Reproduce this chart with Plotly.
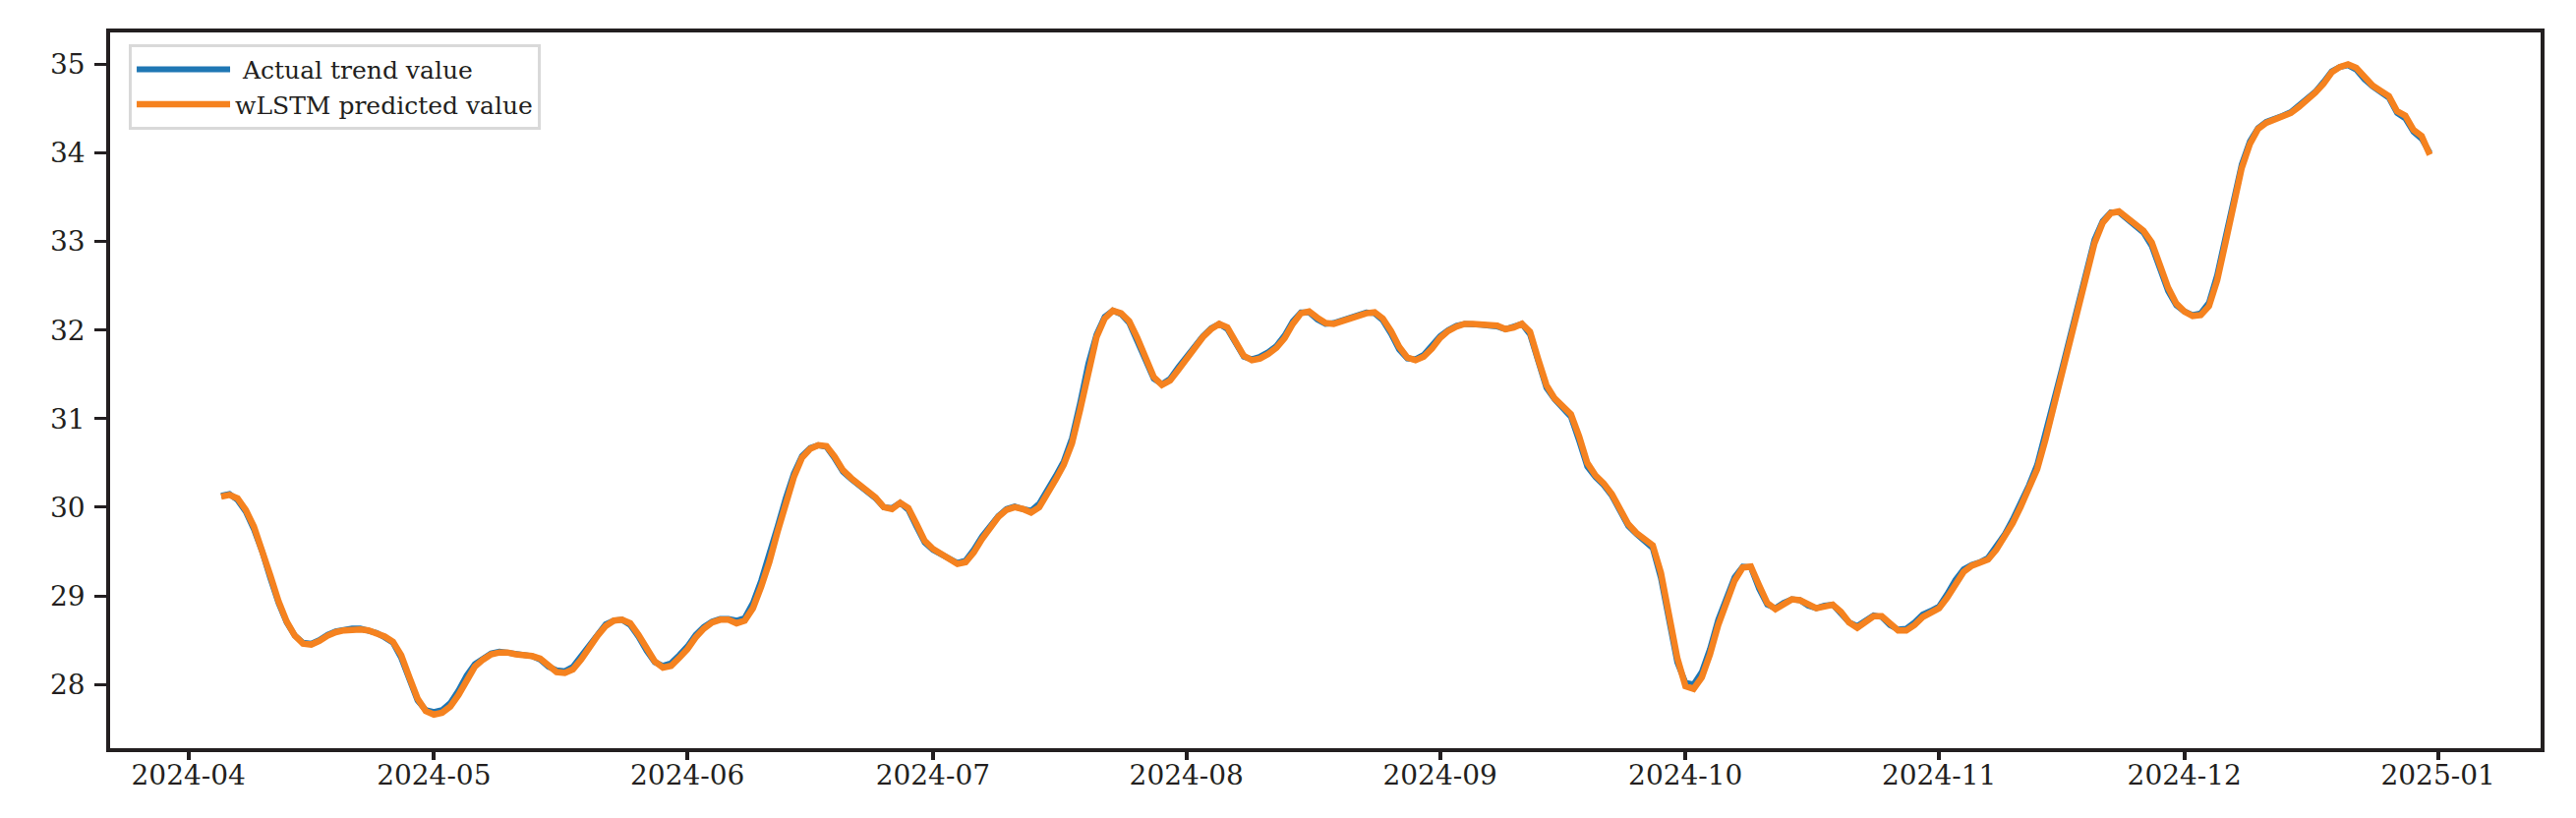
import pandas as pd
import plotly.graph_objects as go

# daily series, 2024-04-05 .. 2024-12-31
start_date = "2024-04-05"

actual_trend = [
    30.13, 30.15, 30.08, 29.95, 29.75, 29.50, 29.20, 28.92, 28.70, 28.55,
    28.47, 28.46, 28.50, 28.56, 28.60, 28.62, 28.63, 28.63, 28.61, 28.58,
    28.53, 28.47, 28.30, 28.05, 27.82, 27.71, 27.69, 27.71, 27.79, 27.93,
    28.10, 28.23, 28.30, 28.35, 28.37, 28.36, 28.34, 28.33, 28.32, 28.28,
    28.20, 28.16, 28.15, 28.20, 28.32, 28.45, 28.58, 28.68, 28.72, 28.73,
    28.67, 28.54, 28.38, 28.25, 28.21, 28.24, 28.33, 28.43, 28.56, 28.65,
    28.71, 28.74, 28.74, 28.72, 28.75, 28.92, 29.17, 29.45, 29.78, 30.10,
    30.38, 30.58, 30.67, 30.70, 30.68, 30.55, 30.40, 30.32, 30.25, 30.19,
    30.10, 30.00, 29.99, 30.05, 29.97, 29.78, 29.60, 29.52, 29.47, 29.42,
    29.37, 29.40, 29.52, 29.67, 29.79, 29.90, 29.98, 30.01, 29.98, 29.96,
    30.04, 30.18, 30.35, 30.52, 30.78, 31.18, 31.62, 31.95, 32.15, 32.22,
    32.18, 32.08, 31.88, 31.66, 31.45, 31.39, 31.45, 31.58, 31.70, 31.82,
    31.93, 32.02, 32.07, 32.01, 31.84, 31.70, 31.67, 31.70, 31.75, 31.82,
    31.94, 32.10, 32.20, 32.20, 32.12, 32.07, 32.08, 32.11, 32.14, 32.17,
    32.20, 32.19, 32.11, 31.96, 31.78, 31.68, 31.67, 31.72, 31.82, 31.93,
    32.00, 32.05, 32.07, 32.07, 32.06, 32.05, 32.04, 32.01, 32.04, 32.07,
    31.95, 31.62, 31.35, 31.22, 31.12, 31.02, 30.75, 30.46, 30.34, 30.25,
    30.13, 29.95, 29.79, 29.70, 29.62, 29.54, 29.20, 28.70, 28.25, 28.02,
    28.00, 28.14, 28.40, 28.73, 28.99, 29.21, 29.33, 29.32, 29.08, 28.90,
    28.86, 28.92, 28.96, 28.95, 28.89, 28.86, 28.89, 28.90, 28.80, 28.70,
    28.66, 28.73, 28.78, 28.76, 28.67, 28.62, 28.63, 28.70, 28.79, 28.83,
    28.88, 29.02, 29.18, 29.30, 29.35, 29.38, 29.43, 29.56, 29.69, 29.86,
    30.05, 30.25, 30.48, 30.82, 31.20, 31.55, 31.92, 32.30, 32.67, 33.02,
    33.23, 33.33, 33.33, 33.25, 33.17, 33.10, 32.95, 32.70, 32.44, 32.28,
    32.21, 32.17, 32.19, 32.31, 32.62, 33.04, 33.47, 33.87, 34.13, 34.28,
    34.35, 34.38, 34.42, 34.46, 34.53, 34.60, 34.69, 34.80, 34.92, 34.97,
    34.99, 34.94, 34.83, 34.75, 34.69, 34.62, 34.45, 34.39, 34.24, 34.16,
    34.00,
]

wlstm_predicted = [
    30.12, 30.14, 30.10, 29.97, 29.78, 29.52, 29.23, 28.94, 28.71, 28.55,
    28.46, 28.45, 28.49, 28.55, 28.59, 28.61, 28.62, 28.62, 28.61, 28.58,
    28.54, 28.48, 28.33, 28.08, 27.84, 27.70, 27.66, 27.68, 27.75, 27.88,
    28.05, 28.20, 28.28, 28.34, 28.36, 28.36, 28.34, 28.33, 28.32, 28.29,
    28.21, 28.14, 28.13, 28.17, 28.28, 28.42, 28.55, 28.66, 28.72, 28.73,
    28.69, 28.56, 28.40, 28.26, 28.19, 28.21, 28.30, 28.40, 28.53, 28.63,
    28.70, 28.73, 28.73, 28.69, 28.72, 28.86, 29.10, 29.38, 29.72, 30.04,
    30.34, 30.56, 30.66, 30.70, 30.69, 30.57, 30.42, 30.33, 30.26, 30.20,
    30.11, 30.00, 29.98, 30.05, 29.99, 29.81, 29.62, 29.53, 29.47, 29.42,
    29.36, 29.38, 29.49, 29.64, 29.77, 29.89, 29.97, 30.00, 29.98, 29.94,
    30.00, 30.14, 30.31, 30.48, 30.72, 31.10, 31.55, 31.92, 32.13, 32.22,
    32.19, 32.10, 31.91, 31.69, 31.47, 31.38, 31.43, 31.55, 31.68, 31.80,
    31.92, 32.01, 32.07, 32.03, 31.87, 31.71, 31.66, 31.68, 31.73, 31.80,
    31.91, 32.07, 32.19, 32.21, 32.14, 32.08, 32.07, 32.10, 32.13, 32.16,
    32.19, 32.20, 32.13, 31.99, 31.81, 31.69, 31.66, 31.70, 31.79, 31.91,
    31.99, 32.04, 32.07, 32.07, 32.06, 32.05, 32.05, 32.01, 32.03, 32.07,
    31.98, 31.67, 31.38, 31.23, 31.13, 31.05, 30.80, 30.50, 30.36, 30.27,
    30.15, 29.98, 29.81, 29.71, 29.63, 29.57, 29.26, 28.78, 28.30, 27.98,
    27.95, 28.08, 28.34, 28.67, 28.94, 29.17, 29.32, 29.33, 29.12, 28.92,
    28.85, 28.90, 28.96, 28.95, 28.90, 28.86, 28.88, 28.90, 28.82, 28.70,
    28.64, 28.70, 28.77, 28.77, 28.69, 28.61, 28.61, 28.67, 28.76, 28.81,
    28.86, 28.98, 29.14, 29.27, 29.34, 29.37, 29.41, 29.52, 29.66, 29.82,
    30.01, 30.21, 30.43, 30.76, 31.13, 31.49, 31.87, 32.25, 32.62, 32.98,
    33.21, 33.32, 33.34, 33.27, 33.19, 33.12, 32.99, 32.74, 32.48, 32.30,
    32.21, 32.16, 32.17, 32.27, 32.56, 32.98, 33.42, 33.83, 34.10, 34.27,
    34.34, 34.38, 34.41, 34.45, 34.52, 34.59, 34.68, 34.78, 34.91, 34.97,
    35.00, 34.96, 34.85, 34.76, 34.70, 34.64, 34.47, 34.42, 34.26, 34.19,
    33.98,
]

dates = pd.date_range(start_date, periods=len(actual_trend), freq="D")

y_ticks = [28, 29, 30, 31, 32, 33, 34, 35]

FONT = "DejaVu Serif, Liberation Serif, serif"
INK = "#231f20"

fig = go.Figure()
fig.add_trace(go.Scatter(x=dates, y=actual_trend, mode="lines",
                         name=" Actual trend value",
                         line=dict(color="#1f77b4", width=6)))
fig.add_trace(go.Scatter(x=dates, y=wlstm_predicted, mode="lines",
                         name="wLSTM predicted value",
                         line=dict(color="#f5821f", width=6.5)))

fig.update_layout(
    width=2620, height=832,
    margin=dict(l=112, r=36, t=33, b=71),
    paper_bgcolor="white", plot_bgcolor="white",
    font=dict(family=FONT, size=28, color=INK),
    showlegend=True,
    legend=dict(x=0.0077, y=0.984, xanchor="left", yanchor="top",
                bgcolor="white", bordercolor="#d9d9d9", borderwidth=3,
                font=dict(family=FONT, size=25, color=INK),
                itemwidth=95, tracegroupgap=0),
)

fig.update_xaxes(
    type="date",
    range=["2024-03-22 10:00", "2025-01-13 13:00"],
    tick0="2024-04-01", dtick="M1", tickformat="%Y-%m",
    ticks="outside", ticklen=8, tickwidth=4, tickcolor=INK,
    ticklabelstandoff=-8,
    showline=True, linewidth=3.5, linecolor=INK, mirror=True,
    showgrid=False, zeroline=False,
    tickfont=dict(family=FONT, size=28, color=INK),
)
fig.update_yaxes(
    range=[27.28, 35.36],
    tickvals=y_ticks,
    ticks="outside", ticklen=12, tickwidth=3, tickcolor=INK,
    ticklabelstandoff=4,
    showline=True, linewidth=3.5, linecolor=INK, mirror=True,
    showgrid=False, zeroline=False,
    tickfont=dict(family=FONT, size=28, color=INK),
)

# the page body has a default 8px margin; drop it so the figure sits at 0,0
fig.write_html("out.html", config={"displayModeBar": False},
               post_script="document.body.style.margin = '0';")
